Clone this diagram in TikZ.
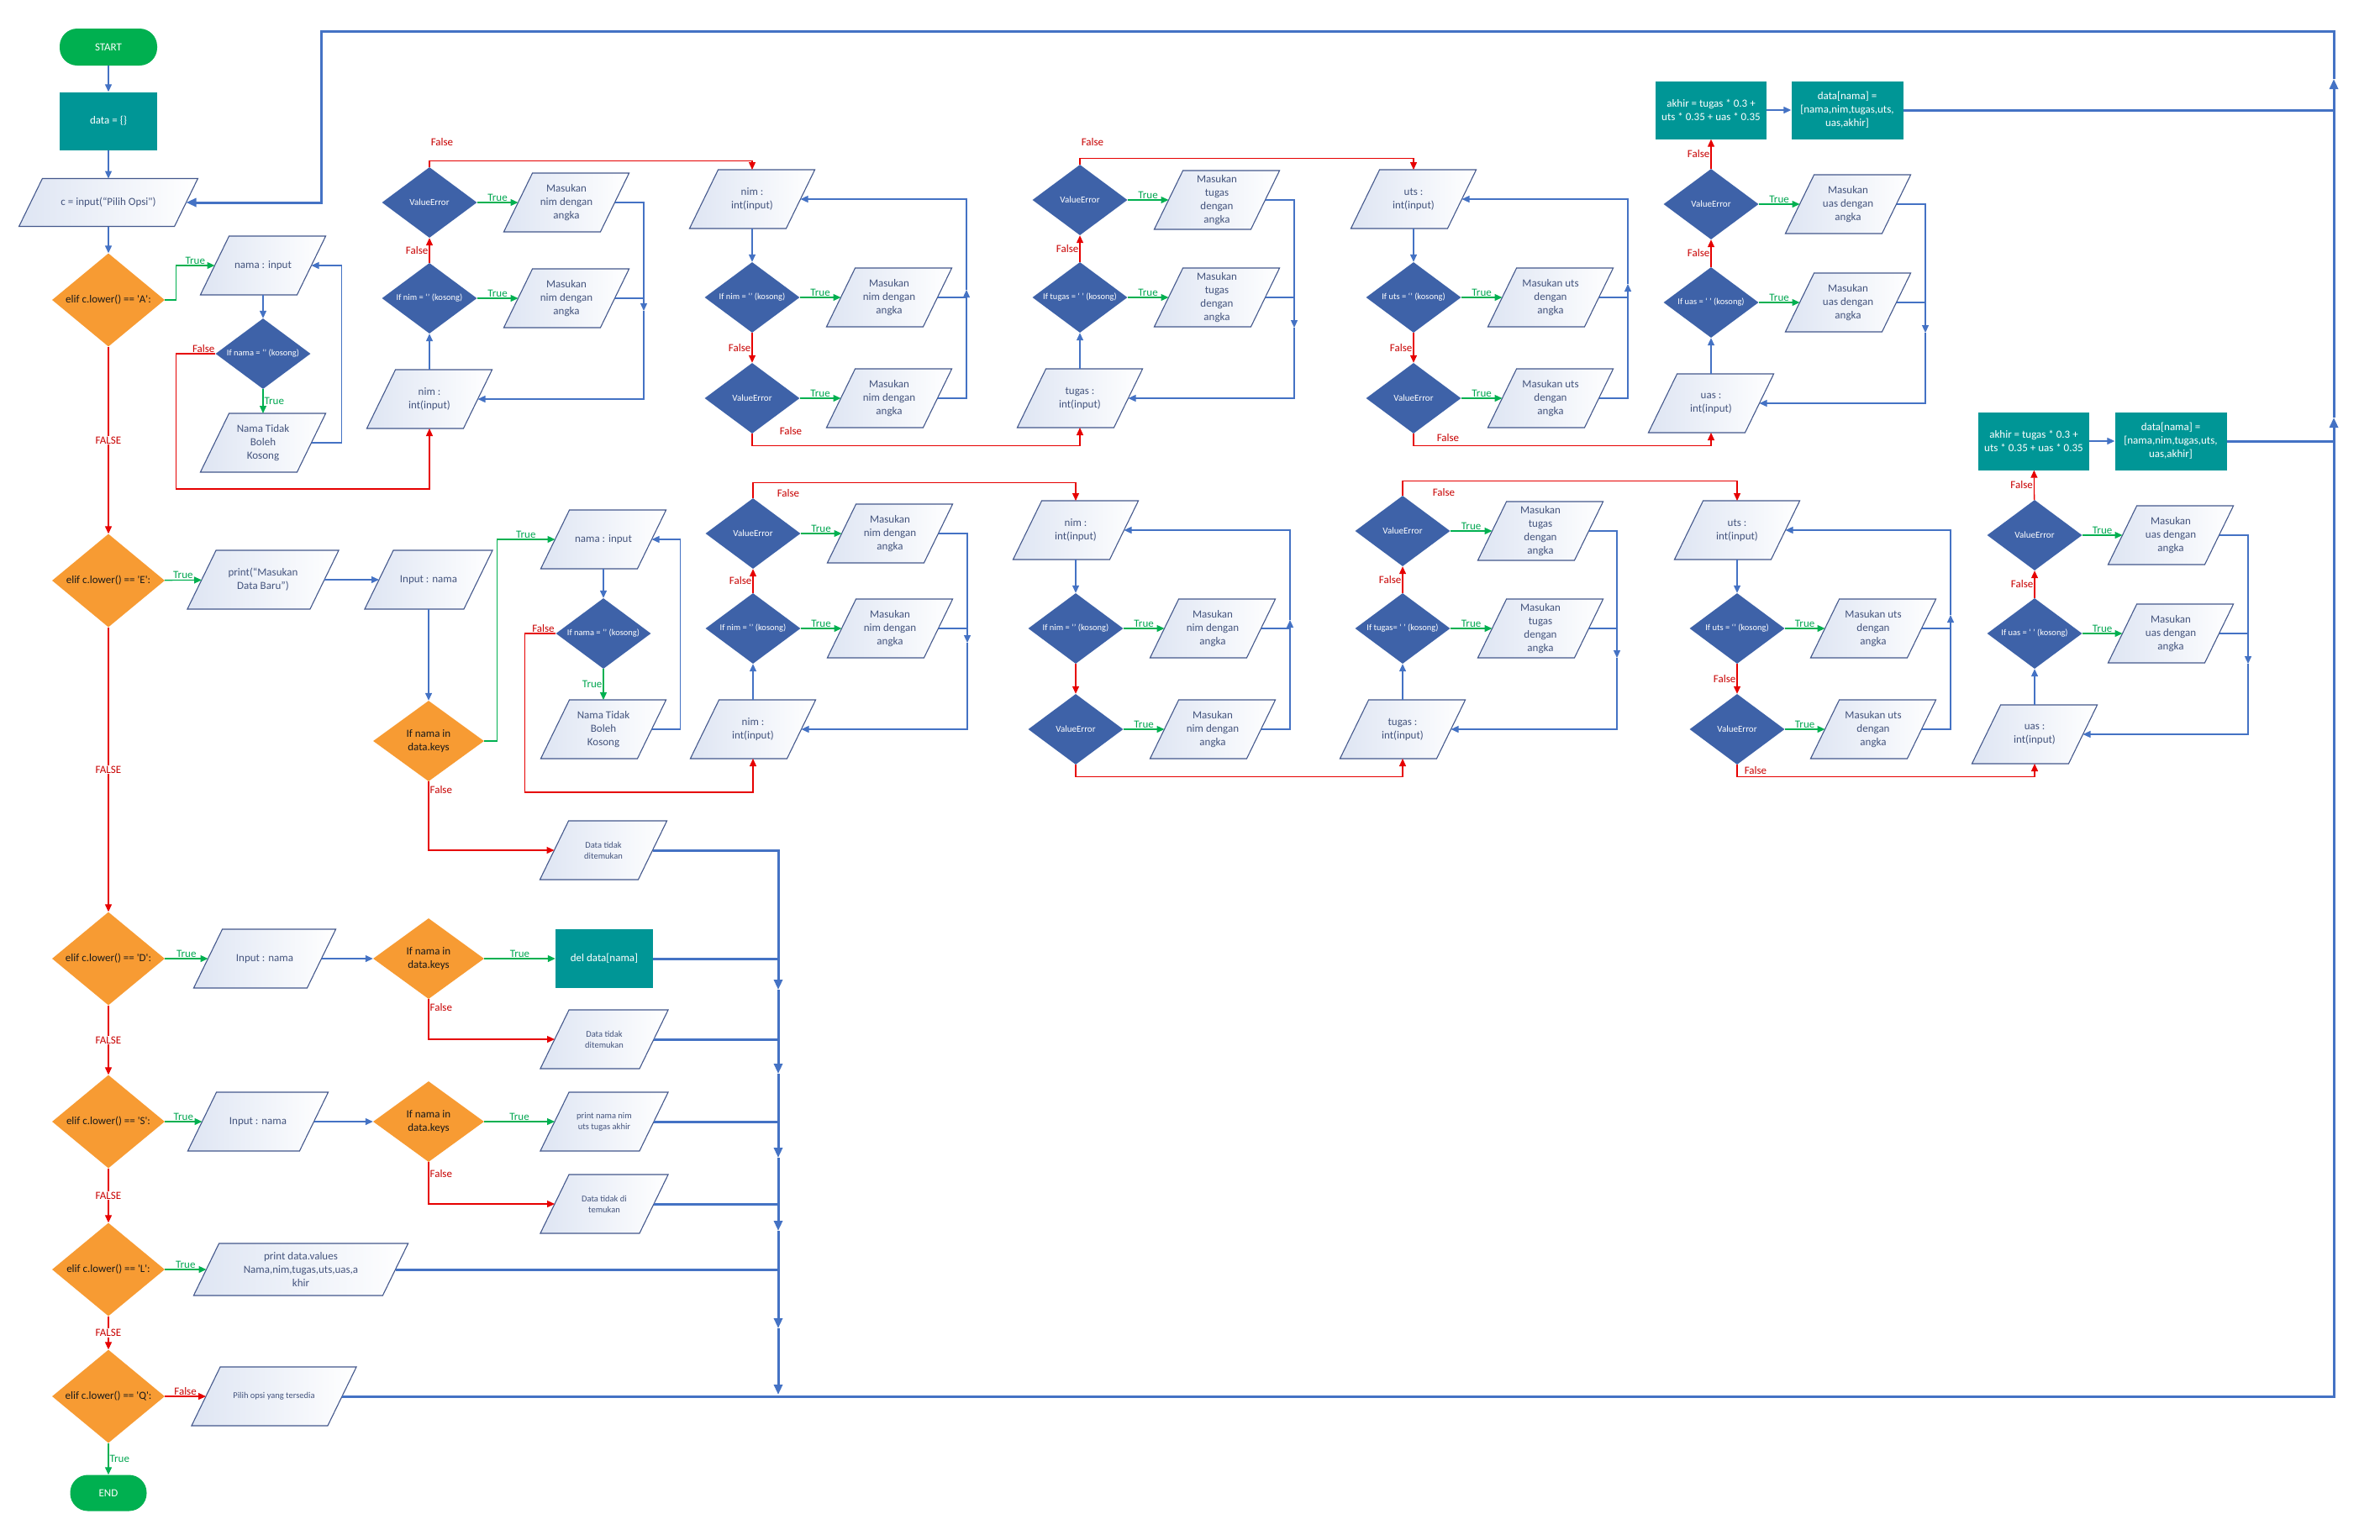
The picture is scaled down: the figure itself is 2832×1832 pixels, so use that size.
\documentclass[tikz,border=0pt]{standalone}
\usepackage{fontspec}
\setmainfont{Carlito}[Ligatures=TeXOff]
\usetikzlibrary{shapes.geometric,arrows.meta}
\definecolor{cOrange}{RGB}{247,155,51}
\definecolor{cBlueD}{RGB}{62,98,168}
\definecolor{cTeal}{RGB}{0,150,150}
\definecolor{cGreen}{RGB}{0,176,80}
\definecolor{cLine}{RGB}{68,114,196}
\definecolor{cRed}{RGB}{230,0,0}
\definecolor{cFalseT}{RGB}{200,0,0}
\definecolor{cTrueT}{RGB}{0,166,80}
\definecolor{cPara}{RGB}{68,88,140}
\definecolor{cParaT}{RGB}{68,84,125}
\definecolor{cParaF}{RGB}{222,229,243}
\makeatletter
\pgfdeclareshape{iopara}{%
  \inheritsavedanchors[from=rectangle]%
  \inheritanchorborder[from=rectangle]%
  \inheritanchor[from=rectangle]{center}%
  \inheritanchor[from=rectangle]{north}%
  \inheritanchor[from=rectangle]{south}%
  \inheritanchor[from=rectangle]{east}%
  \inheritanchor[from=rectangle]{west}%
  \inheritanchor[from=rectangle]{text}%
  \backgroundpath{%
    \southwest \pgf@xa=\pgf@x \pgf@ya=\pgf@y
    \northeast \pgf@xb=\pgf@x \pgf@yb=\pgf@y
    \pgf@xc=\pgf@yb \advance\pgf@xc by -\pgf@ya
    \pgf@xc=0.2439\pgf@xc
    \edef\ioXa{\the\dimexpr\pgf@xa-\pgf@xc\relax}%
    \edef\ioXb{\the\dimexpr\pgf@xb-\pgf@xc\relax}%
    \edef\ioXc{\the\dimexpr\pgf@xb+\pgf@xc\relax}%
    \edef\ioXd{\the\dimexpr\pgf@xa+\pgf@xc\relax}%
    \edef\ioYa{\the\pgf@ya}\edef\ioYb{\the\pgf@yb}%
    \pgfpathmoveto{\pgfqpoint{\ioXa}{\ioYa}}%
    \pgfpathlineto{\pgfqpoint{\ioXb}{\ioYa}}%
    \pgfpathlineto{\pgfqpoint{\ioXc}{\ioYb}}%
    \pgfpathlineto{\pgfqpoint{\ioXd}{\ioYb}}%
    \pgfpathclose
  }%
}
\makeatother
\begin{document}
\begin{tikzpicture}[x=1pt,y=-1pt,
  >={Triangle[length=9pt,width=8pt]},
  txt/.style={font=\fontsize{13}{16}\selectfont, align=center, inner sep=1pt},
  term/.style={txt, rectangle, rounded corners=21pt, fill=cGreen, text=white, minimum width=116pt, minimum height=44pt},
  proc/.style={txt, rectangle, fill=cTeal, text=white, minimum width=132pt, minimum height=69pt},
  io/.style={txt, shape=iopara, outer sep=0pt, draw=cPara, line width=1.1pt, left color=cParaF, right color=white, text=cParaT, minimum width=115pt, minimum height=70pt},
  smalltxt/.style={font=\fontsize{10.5}{13}\selectfont},
  dec/.style={txt, diamond, aspect=1.2, fill=cOrange, text=black!90, minimum width=134pt, minimum height=111pt, inner sep=0pt},
  deck/.style={dec, aspect=1.375, minimum width=132pt, minimum height=96pt},
  dbl/.style={diamond, aspect=1.35, fill=cBlueD, text=white, align=center, inner sep=0pt, minimum width=113pt, minimum height=84pt, font=\fontsize{10.5}{12}\selectfont},
  ve/.style={dbl, font=\fontsize{11}{13}\selectfont},
  ln/.style={draw=cLine, line width=1.3pt},
  lnr/.style={draw=cRed, line width=1.3pt},
  lng/.style={draw=cGreen, line width=1.3pt},
  bus/.style={draw=cLine, line width=3pt, >={Triangle[length=12pt,width=10pt]}},
  tl/.style={font=\fontsize{13}{15}\selectfont, text=cTrueT, inner sep=1pt},
  fl/.style={font=\fontsize{13}{15}\selectfont, text=cFalseT, inner sep=1pt},
]
\useasboundingbox (0,0) rectangle (2832,1832);
\fill[white] (0,0) rectangle (2832,1832);

% ---------------- left column
\node[term] (start) at (129,56) {START};
\node[proc, minimum width=116pt] (data0) at (129,144) {data = \{\}};
\node[io, minimum width=185pt, minimum height=57pt] (cin) at (129,241) {c = input(“Pilih Opsi")};
\node[dec] (dA) at (129,357) {elif c.lower() == 'A':};
\node[dec] (dE) at (129,691) {elif c.lower() == 'E':};
\node[dec] (dD) at (129,1141) {elif c.lower() == 'D':};
\node[dec] (dS) at (129,1335) {elif c.lower() == 'S':};
\node[dec] (dL) at (129,1511) {elif c.lower() == 'L':};
\node[dec] (dQ) at (129,1662) {elif c.lower() == 'Q':};
\node[term, minimum width=91pt, minimum height=43pt] (endn) at (129,1777) {END};

% ---------------- A branch
\node[io] (aNama) at (313,316) {nama : input};
\node[dbl] (aIfNama) at (313,421) {If nama = ‘’ (kosong)};
\node[io] (aTidak) at (313,527) {Nama Tidak\\Boleh\\Kosong};
\node[io] (aNim1) at (511,475) {nim :\\int(input)};
\node[dbl] (aIfNim1) at (511,355) {If nim = ‘’ (kosong)};
\node[ve] (aVE1) at (511,241) {ValueError};
\node[io] (aM1) at (674,241) {Masukan\\nim dengan\\angka};
\node[io] (aM2) at (674,355) {Masukan\\nim dengan\\angka};
\node[io] (aNim2) at (895,237) {nim :\\int(input)};
\node[dbl] (aIfNim2) at (895,354) {If nim = ‘’ (kosong)};
\node[ve] (aVE2) at (895,474) {ValueError};
\node[io] (aM3) at (1058,354) {Masukan\\nim dengan\\angka};
\node[io] (aM4) at (1058,474) {Masukan\\nim dengan\\angka};
\node[io] (aTugas) at (1285,474) {tugas :\\int(input)};
\node[dbl] (aIfTugas) at (1285,354) {If tugas = ‘ ’ (kosong)};
\node[ve] (aVE3) at (1285,238) {ValueError};
\node[io] (aM5) at (1448,238) {Masukan\\tugas\\dengan\\angka};
\node[io] (aM6) at (1448,354) {Masukan\\tugas\\dengan\\angka};
\node[io] (aUts) at (1682,237) {uts :\\int(input)};
\node[dbl] (aIfUts) at (1682,354) {If uts = ‘’ (kosong)};
\node[ve] (aVE4) at (1682,474) {ValueError};
\node[io] (aM7) at (1845,354) {Masukan uts\\dengan\\angka};
\node[io] (aM8) at (1845,474) {Masukan uts\\dengan\\angka};
\node[io] (aUas) at (2036,480) {uas :\\int(input)};
\node[dbl] (aIfUas) at (2036,360) {If uas = ‘ ’ (kosong)};
\node[ve] (aVE5) at (2036,243) {ValueError};
\node[io] (aM9) at (2199,243) {Masukan\\uas dengan\\angka};
\node[io] (aM10) at (2199,360) {Masukan\\uas dengan\\angka};
\node[proc] (aAkhir) at (2036,131) {akhir = tugas * 0.3 +\\uts * 0.35 + uas * 0.35};
\node[proc, minimum width=133pt] (aData) at (2198,131) {data[nama] =\\\relax[nama,nim,tugas,uts,\\uas,akhir]};

% ---------------- E branch
\node[io, minimum width=146pt] (ePrint) at (313,690) {print(“Masukan\\Data Baru”)};
\node[io, minimum width=118pt] (eInput) at (510,690) {Input : nama};
\node[deck] (eIf) at (510,882) {If nama in\\data.keys};
\node[io] (eNama) at (718,642) {nama : input};
\node[dbl] (eIfNama) at (718,754) {If nama = ‘’ (kosong)};
\node[io] (eTidak) at (718,868) {Nama Tidak\\Boleh\\Kosong};
\node[io, minimum width=117pt, smalltxt] (eNot) at (718,1012) {Data tidak\\ditemukan};
\node[io] (eNim1) at (896,868) {nim :\\int(input)};
\node[dbl] (eIfNim1) at (896,748) {If nim = ‘’ (kosong)};
\node[ve] (eVE1) at (896,635) {ValueError};
\node[io] (eM1) at (1059,635) {Masukan\\nim dengan\\angka};
\node[io] (eM2) at (1059,748) {Masukan\\nim dengan\\angka};
\node[io] (eNim2) at (1280,631) {nim :\\int(input)};
\node[dbl] (eIfNim2) at (1280,748) {If nim = ‘’ (kosong)};
\node[ve] (eVE2) at (1280,868) {ValueError};
\node[io] (eM3) at (1443,748) {Masukan\\nim dengan\\angka};
\node[io] (eM4) at (1443,868) {Masukan\\nim dengan\\angka};
\node[io] (eTugas) at (1669,868) {tugas :\\int(input)};
\node[dbl] (eIfTugas) at (1669,748) {If tugas= ‘ ’ (kosong)};
\node[ve] (eVE3) at (1669,632) {ValueError};
\node[io] (eM5) at (1833,632) {Masukan\\tugas\\dengan\\angka};
\node[io] (eM6) at (1833,748) {Masukan\\tugas\\dengan\\angka};
\node[io] (eUts) at (2067,631) {uts :\\int(input)};
\node[dbl] (eIfUts) at (2067,748) {If uts = ‘’ (kosong)};
\node[ve] (eVE4) at (2067,868) {ValueError};
\node[io] (eM7) at (2229,748) {Masukan uts\\dengan\\angka};
\node[io] (eM8) at (2229,868) {Masukan uts\\dengan\\angka};
\node[io] (eUas) at (2421,874) {uas :\\int(input)};
\node[dbl] (eIfUas) at (2421,754) {If uas = ‘ ’ (kosong)};
\node[ve] (eVE5) at (2421,637) {ValueError};
\node[io] (eM9) at (2583,637) {Masukan\\uas dengan\\angka};
\node[io] (eM10) at (2583,754) {Masukan\\uas dengan\\angka};
\node[proc] (eAkhir) at (2420,525) {akhir = tugas * 0.3 +\\uts * 0.35 + uas * 0.35};
\node[proc, minimum width=133pt] (eData) at (2583,525) {data[nama] =\\\relax[nama,nim,tugas,uts,\\uas,akhir]};

% ---------------- D, S, L, Q
\node[io, minimum width=135pt] (dInput) at (315,1141) {Input : nama};
\node[deck] (dIf) at (510,1141) {If nama in\\data.keys};
\node[proc, minimum width=116pt, minimum height=70pt] (dDel) at (719,1141) {del data[nama]};
\node[io, minimum width=118pt, smalltxt] (dNot) at (719,1237) {Data tidak\\ditemukan};
\node[io, minimum width=133pt] (sInput) at (307,1335) {Input : nama};
\node[deck] (sIf) at (510,1335) {If nama in\\data.keys};
\node[io, minimum width=118pt, smalltxt] (sPrint) at (719,1335) {print nama nim\\uts tugas akhir};
\node[io, minimum width=118pt, smalltxt] (sNot) at (719,1433) {Data tidak di\\temukan};
\node[io, minimum width=225pt, minimum height=62pt] (lPrint) at (358,1511) {print data.values\\Nama,nim,tugas,uts,uas,a\\khir};
\node[io, minimum width=162pt, smalltxt] (qPilih) at (326,1662) {Pilih opsi yang tersedia};

% ---------------- coordinates
\coordinate (aL1) at (766,370);
\coordinate (aL2) at (1150,345);
\coordinate (aL3) at (1540,390);
\coordinate (aL4) at (1937,338);
\coordinate (aL5) at (2291,396);
\coordinate (eL1) at (1151,765);
\coordinate (eL2) at (1535,738);
\coordinate (eL3) at (1924,783);
\coordinate (eL4) at (2321,732);
\coordinate (eL5) at (2675,790);
\coordinate (b1) at (926,1178);
\coordinate (b2) at (926,1278);
\coordinate (b3) at (926,1378);
\coordinate (b4) at (926,1465);
\coordinate (b5) at (926,1581);
\coordinate (b6) at (926,1660);
\coordinate (rtB) at (2777,1662);
\coordinate (rtA1) at (2777,497);
\coordinate (rtA2) at (2777,94);
\coordinate (rtTop) at (2777,37);
\coordinate (ltTop) at (382,37);

% ---------------- left column connectors
\draw[ln,->] (start) -- (data0);
\draw[ln,->] (data0) -- (cin);
\draw[ln,->] (cin) -- (dA);
\draw[lnr,->] (dA) -- node[fl,fill=white]{FALSE} (dE);
\draw[lnr,->] (dE) -- node[fl,fill=white]{FALSE} (dD);
\draw[lnr,->] (dD) -- node[fl,fill=white]{FALSE} (dS);
\draw[lnr,->] (dS) -- node[fl,fill=white]{FALSE} (dL);
\draw[lnr,->] (dL) -- node[fl,fill=white]{FALSE} (dQ);
\draw[lng,->] (dQ) -- node[tl,right]{True} (endn);

% ---------------- A connectors
\draw[lng,->] (dA.east) -- ++(13,0) |- node[tl,pos=0.75,above]{True} (aNama.west);
\draw[ln,->] (aNama) -- (aIfNama);
\draw[lng,->] (aIfNama) -- node[tl,right]{True} (aTidak);
\draw[ln,->] (aTidak.east) -- ++(36,0) |- (aNama.east);
\draw[lnr,->] (aIfNama.west) -- node[fl,above,pos=0.3]{False} ++(-47,0) -- ++(0,161) -| (aNim1.south);
\draw[ln,->] (aNim1) -- (aIfNim1);
\draw[lnr,->] (aIfNim1) -- node[fl,left]{False} (aVE1);
\draw[lng,->] (aIfNim1) -- node[tl,above]{True} (aM2);
\draw[lng,->] (aVE1) -- node[tl,above]{True} (aM1);
\draw[ln,->] (aM1.east) -- (aM1.east -| aL1) -- (aL1);
\draw[ln] (aM2.east) -- (aM2.east -| aL1);
\draw[ln,->] (aL1) |- (aNim1.east);
\draw[lnr,->] (aVE1.north) -- ++(0,-7) -| (aNim2.north) node[fl] at (526,169) {False};

\draw[ln,->] (aNim2) -- (aIfNim2);
\draw[lnr,->] (aIfNim2) -- node[fl,left]{False} (aVE2);
\draw[lng,->] (aIfNim2) -- node[tl,above]{True} (aM3);
\draw[lng,->] (aVE2) -- node[tl,above]{True} (aM4);
\draw[ln,->] (aM4.east) -- (aM4.east -| aL2) -- (aL2);
\draw[ln] (aM3.east) -- (aM3.east -| aL2);
\draw[ln,->] (aL2) |- (aNim2.east);
\draw[lnr,->] (aVE2.south) -- ++(0,14) -| (aTugas.south) node[fl] at (941,513) {False};

\draw[ln,->] (aTugas) -- (aIfTugas);
\draw[lnr,->] (aIfTugas) -- node[fl,left]{False} (aVE3);
\draw[lng,->] (aIfTugas) -- node[tl,above]{True} (aM6);
\draw[lng,->] (aVE3) -- node[tl,above]{True} (aM5);
\draw[ln,->] (aM5.east) -- (aM5.east -| aL3) -- (aL3);
\draw[ln] (aM6.east) -- (aM6.east -| aL3);
\draw[ln,->] (aL3) |- (aTugas.east);
\draw[lnr,->] (aVE3.north) -- ++(0,-7) -| (aUts.north) node[fl] at (1300,169) {False};

\draw[ln,->] (aUts) -- (aIfUts);
\draw[lnr,->] (aIfUts) -- node[fl,left]{False} (aVE4);
\draw[lng,->] (aIfUts) -- node[tl,above]{True} (aM7);
\draw[lng,->] (aVE4) -- node[tl,above]{True} (aM8);
\draw[ln,->] (aM8.east) -- (aM8.east -| aL4) -- (aL4);
\draw[ln] (aM7.east) -- (aM7.east -| aL4);
\draw[ln,->] (aL4) |- (aUts.east);
\draw[lnr,->] (aVE4.south) -- ++(0,14) -| (aUas.south) node[fl] at (1723,521) {False};

\draw[ln,->] (aUas) -- (aIfUas);
\draw[lnr,->] (aIfUas) -- node[fl,left]{False} (aVE5);
\draw[lng,->] (aIfUas) -- node[tl,above]{True} (aM10);
\draw[lng,->] (aVE5) -- node[tl,above]{True} (aM9);
\draw[ln,->] (aM9.east) -- (aM9.east -| aL5) -- (aL5);
\draw[ln] (aM10.east) -- (aM10.east -| aL5);
\draw[ln,->] (aL5) |- (aUas.east);
\draw[lnr,->] (aVE5) -- node[fl,left]{False} (aAkhir);
\draw[ln,->] (aAkhir) -- (aData);
\draw[bus] (aData.east) -- (aData.east -| rtB);

% ---------------- E connectors
\draw[lng,->] (dE) -- node[tl,above]{True} (ePrint);
\draw[ln,->] (ePrint) -- (eInput);
\draw[ln,->] (eInput) -- (eIf);
\draw[lng,->] (eIf.east) -- ++(15,0) |- node[tl,pos=0.75,above]{True} (eNama.west);
\draw[lnr,->] (eIf.south) |- node[fl,right,pos=0.06]{False} (eNot.west);
\draw[ln,->] (eNama) -- (eIfNama);
\draw[lng,->] (eIfNama) -- node[tl,left]{True} (eTidak);
\draw[ln,->] (eTidak.east) -- ++(34,0) |- (eNama.east);
\draw[lnr,->] (eIfNama.west) -- node[fl,above,pos=0.4]{False} ++(-37,0) -- ++(0,189) -| (eNim1.south);

\draw[ln,->] (eNim1) -- (eIfNim1);
\draw[lnr,->] (eIfNim1) -- node[fl,left]{False} (eVE1);
\draw[lng,->] (eIfNim1) -- node[tl,above]{True} (eM2);
\draw[lng,->] (eVE1) -- node[tl,above]{True} (eM1);
\draw[ln,->] (eM1.east) -- (eM1.east -| eL1) -- (eL1);
\draw[ln] (eM2.east) -- (eM2.east -| eL1);
\draw[ln,->] (eL1) |- (eNim1.east);
\draw[lnr,->] (eVE1.north) -- ++(0,-18) -| (eNim2.north) node[fl] at (938,587) {False};

\draw[ln,->] (eNim2) -- (eIfNim2);
\draw[lnr,->] (eIfNim2) -- (eVE2);
\draw[lng,->] (eIfNim2) -- node[tl,above]{True} (eM3);
\draw[lng,->] (eVE2) -- node[tl,above]{True} (eM4);
\draw[ln,->] (eM4.east) -- (eM4.east -| eL2) -- (eL2);
\draw[ln] (eM3.east) -- (eM3.east -| eL2);
\draw[ln,->] (eL2) |- (eNim2.east);
\draw[lnr,->] (eVE2.south) -- ++(0,14) -| (eTugas.south);

\draw[ln,->] (eTugas) -- (eIfTugas);
\draw[lnr,->] (eIfTugas) -- node[fl,left]{False} (eVE3);
\draw[lng,->] (eIfTugas) -- node[tl,above]{True} (eM6);
\draw[lng,->] (eVE3) -- node[tl,above]{True} (eM5);
\draw[ln,->] (eM5.east) -- (eM5.east -| eL3) -- (eL3);
\draw[ln] (eM6.east) -- (eM6.east -| eL3);
\draw[ln,->] (eL3) |- (eTugas.east);
\draw[lnr,->] (eVE3.north) -- ++(0,-17) -| (eUts.north) node[fl] at (1718,586) {False};

\draw[ln,->] (eUts) -- (eIfUts);
\draw[lnr,->] (eIfUts) -- node[fl,left]{False} (eVE4);
\draw[lng,->] (eIfUts) -- node[tl,above]{True} (eM7);
\draw[lng,->] (eVE4) -- node[tl,above]{True} (eM8);
\draw[ln,->] (eM8.east) -- (eM8.east -| eL4) -- (eL4);
\draw[ln] (eM7.east) -- (eM7.east -| eL4);
\draw[ln,->] (eL4) |- (eUts.east);
\draw[lnr,->] (eVE4.south) -- ++(0,14) -| (eUas.south) node[fl] at (2089,917) {False};

\draw[ln,->] (eUas) -- (eIfUas);
\draw[lnr,->] (eIfUas) -- node[fl,left]{False} (eVE5);
\draw[lng,->] (eIfUas) -- node[tl,above]{True} (eM10);
\draw[lng,->] (eVE5) -- node[tl,above]{True} (eM9);
\draw[ln,->] (eM9.east) -- (eM9.east -| eL5) -- (eL5);
\draw[ln] (eM10.east) -- (eM10.east -| eL5);
\draw[ln,->] (eL5) |- (eUas.east);
\draw[lnr,->] (eVE5) -- node[fl,left]{False} (eAkhir);
\draw[ln,->] (eAkhir) -- (eData);
\draw[bus] (eData.east) -- (eData.east -| rtB);

% ---------------- D, S, L, Q connectors
\draw[lng,->] (dD) -- node[tl,above]{True} (dInput);
\draw[ln,->] (dInput) -- (dIf);
\draw[lng,->] (dIf) -- node[tl,above]{True} (dDel);
\draw[lnr,->] (dIf.south) |- node[fl,right,pos=0.1]{False} (dNot.west);
\draw[lng,->] (dS) -- node[tl,above]{True} (sInput);
\draw[ln,->] (sInput) -- (sIf);
\draw[lng,->] (sIf) -- node[tl,above]{True} (sPrint);
\draw[lnr,->] (sIf.south) |- node[fl,right,pos=0.14]{False} (sNot.west);
\draw[lng,->] (dL) -- node[tl,above]{True} (lPrint);
\draw[lnr,->] (dQ) -- node[fl,above]{False} (qPilih);

% ---------------- return bus
\draw[bus,->] (eNot.east) -| (b1);
\draw[bus,->] (b1) -- (b2);
\draw[bus,->] (b2) -- (b3);
\draw[bus,->] (b3) -- (b4);
\draw[bus,->] (b4) -- (b5);
\draw[bus,->] (b5) -- (b6);
\draw[bus] (dDel.east) -- (dDel.east -| b1);
\draw[bus] (dNot.east) -- (dNot.east -| b1);
\draw[bus] (sPrint.east) -- (sPrint.east -| b1);
\draw[bus] (sNot.east) -- (sNot.east -| b1);
\draw[bus] (lPrint.east) -- (lPrint.east -| b1);
\draw[bus,->] (qPilih.east) -- (rtB) -- (rtA1);
\draw[bus,->] (rtA1) -- (rtA2);
\draw[bus,->] (rtA2) -- (rtTop) -- (ltTop) |- (cin.east);
\end{tikzpicture}
\end{document}
